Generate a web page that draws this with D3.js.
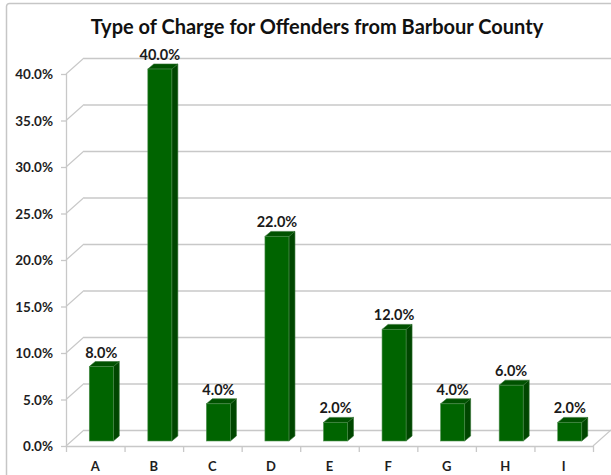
<!DOCTYPE html>
<html><head><meta charset="utf-8">
<script src="https://cdn.jsdelivr.net/npm/d3@7"></script>
<style>html,body{margin:0;padding:0;background:#fff;}svg{display:block;}</style>
</head><body>
<svg id="c" width="611" height="475"></svg>
<script>
const categories = ["A","B","C","D","E","F","G","H","I"];
const values = [8.0, 40.0, 4.0, 22.0, 2.0, 12.0, 4.0, 6.0, 2.0];
const yTicks = [0, 5, 10, 15, 20, 25, 30, 35, 40];
const title = "Type of Charge for Offenders from Barbour County";

const svg = d3.select("#c");
const font = "Lato, 'Open Sans', sans-serif";
const W = 611, H = 475;
const x0 = 66, x1 = 593;
const depthX = 18, depthY = -16;
const barOffX = 6, barOffY = -5, barDX = 6, barDY = -5, barW = 24;

const x = d3.scaleBand().domain(categories).range([x0, x1]);
const y = d3.scaleLinear().domain([0, 40]).range([446, 74]);

// chart border
svg.append("rect").attr("x", 6.5).attr("y", 3.5).attr("width", W + 10).attr("height", H + 10)
  .attr("fill", "#fff").attr("stroke", "#c6c6c6").attr("stroke-width", 1.5).attr("rx", 3);

const grid = "#c8c8c8";
const g = svg.append("g");
yTicks.forEach(t => {
  const yy = y(t);
  g.append("line").attr("x1", x0 + depthX).attr("x2", W + 5)
    .attr("y1", yy + depthY + 0.5).attr("y2", yy + depthY + 0.5).attr("stroke", grid).attr("stroke-width", 1.3);
  g.append("line").attr("x1", x0).attr("y1", yy).attr("x2", x0 + depthX).attr("y2", yy + depthY)
    .attr("stroke", grid).attr("stroke-width", 1.2);
});
g.append("line").attr("x1", x0).attr("x2", x1).attr("y1", y(0) + 0.5).attr("y2", y(0) + 0.5).attr("stroke", grid).attr("stroke-width", 1.3);
g.append("line").attr("x1", x1).attr("y1", y(0)).attr("x2", x1 + depthX).attr("y2", y(0) + depthY).attr("stroke", grid).attr("stroke-width", 1.2);
g.append("line").attr("x1", x0 + 0.5).attr("x2", x0 + 0.5).attr("y1", y(40)).attr("y2", y(0)).attr("stroke", grid).attr("stroke-width", 1.3);
yTicks.forEach(t => {
  g.append("line").attr("x1", x0 - 5).attr("x2", x0).attr("y1", y(t) + 0.5).attr("y2", y(t) + 0.5).attr("stroke", grid).attr("stroke-width", 1.3);
});
const bounds = categories.map(c => x(c)).concat([x1]);
bounds.forEach(b => {
  g.append("line").attr("x1", b + 0.5).attr("x2", b + 0.5).attr("y1", y(0)).attr("y2", y(0) + 6).attr("stroke", grid).attr("stroke-width", 1.3);
});

svg.append("g").selectAll("text").data(yTicks).join("text")
  .attr("x", 53).attr("y", d => y(d) + 5).attr("text-anchor", "end")
  .attr("font-family", font).attr("font-weight", "bold").attr("font-size", 13.5).attr("fill", "#1e1e1e")
  .text(d => d.toFixed(1) + "%");

svg.append("g").selectAll("text").data(categories).join("text")
  .attr("x", d => x(d) + x.bandwidth() / 2).attr("y", 471).attr("text-anchor", "middle")
  .attr("font-family", font).attr("font-weight", "bold").attr("font-size", 13).attr("fill", "#1e1e1e")
  .text(d => d);

const bars = svg.append("g");
categories.forEach((c, i) => {
  const v = values[i];
  const cx = x(c) + x.bandwidth() / 2 + barOffX;
  const L = cx - barW / 2, R = cx + barW / 2;
  const B = y(0) + barOffY, T = y(v) + barOffY;
  const bg = bars.append("g");
  bg.append("path").attr("d", `M${R},${B}L${R + barDX},${B + barDY}L${R + barDX},${T + barDY}L${R},${T}Z`)
    .attr("fill", "#004600").attr("stroke", "#2f6f2f").attr("stroke-width", 0.6);
  bg.append("path").attr("d", `M${L},${T}L${L + barDX},${T + barDY}L${R + barDX},${T + barDY}L${R},${T}Z`)
    .attr("fill", "#005200").attr("stroke", "#2f6f2f").attr("stroke-width", 0.6);
  bg.append("rect").attr("x", L).attr("y", T).attr("width", barW).attr("height", B - T)
    .attr("fill", "#006400").attr("stroke", "#4f8f4f").attr("stroke-width", 0.6);
  bars.append("text").attr("x", cx).attr("y", T - 9).attr("text-anchor", "middle")
    .attr("font-family", font).attr("font-weight", "bold").attr("font-size", 14.5).attr("fill", "#1a1a1a")
    .text(v.toFixed(1) + "%");
});

svg.append("text").attr("x", 317).attr("y", 34).attr("text-anchor", "middle")
  .attr("font-family", font).attr("font-weight", "bold").attr("font-size", 20).attr("fill", "#111")
  .text(title);
</script>
</body></html>
